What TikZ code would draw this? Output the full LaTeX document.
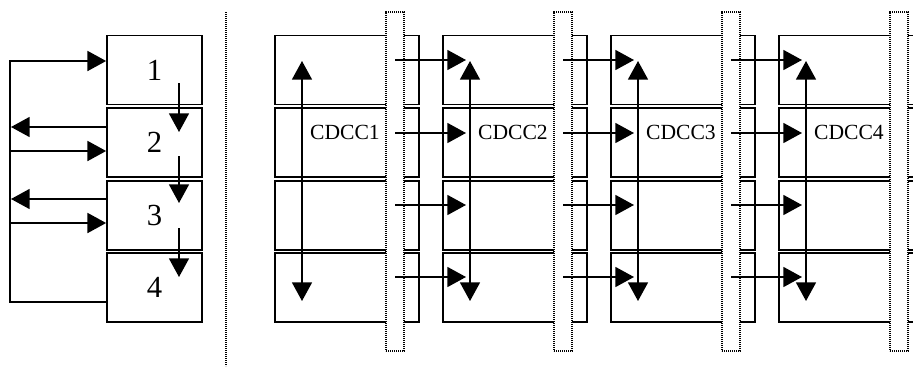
\documentclass[tikz,border=0pt]{standalone}
\usepackage{fontspec}
\setmainfont{Liberation Serif}
\usetikzlibrary{arrows.meta}
\begin{document}
\begin{tikzpicture}[x=0.75pt,y=-0.75pt,
  box/.style={draw,line width=1.3pt,minimum height=51.75pt,inner sep=0pt},
  lbox/.style={box,minimum width=71.25pt,font=\fontsize{23}{25}\selectfont},
  cbox/.style={box,minimum width=108pt},
  dotbox/.style={draw,fill=white,line width=0.9pt,dash pattern=on 0.8pt off 0.7pt,minimum width=13.5pt,minimum height=254.25pt,inner sep=0pt},
  sep/.style={line width=0.9pt,dash pattern=on 0.8pt off 0.7pt},
  tip/.tip={Triangle[length=14pt,width=15pt]},
  arr/.style={line width=1.2pt,-tip},
  darr/.style={line width=1.2pt,tip-tip},
  lab/.style={anchor=east,inner sep=0pt,font=\fontsize{16.2}{18}\selectfont},
]
\useasboundingbox (0,0) rectangle (913,368);
\clip (0,0) rectangle (913,368);

% left block
\node[lbox] (b1) at (154.5,70) {1};
\node[lbox] (b2) at (154.5,142.5) {2};
\node[lbox] (b3) at (154.5,215.5) {3};
\node[lbox] (b4) at (154.5,287.5) {4};

\coordinate (lt) at (10,61);
\coordinate (lb) at (10,302);
\draw[arr] (b4.west |- lb) -- (lb) -- (lt) -- (b1.west |- lt);

\coordinate (l2o) at (11,127);
\coordinate (l2i) at (10,151);
\coordinate (l3o) at (11,199);
\coordinate (l3i) at (10,223);
\draw[arr] (b2.west |- l2o) -- (l2o);
\draw[arr] (l2i) -- (b2.west |- l2i);
\draw[arr] (b3.west |- l3o) -- (l3o);
\draw[arr] (l3i) -- (b3.west |- l3i);

\coordinate (d1s) at (179,83);  \coordinate (d1e) at (179,132);
\coordinate (d2s) at (179,156); \coordinate (d2e) at (179,203);
\coordinate (d3s) at (179,228); \coordinate (d3e) at (179,277);
\draw[arr] (d1s) -- (d1e);
\draw[arr] (d2s) -- (d2e);
\draw[arr] (d3s) -- (d3e);

% separator
\coordinate (st) at (226,12);
\coordinate (sb) at (226,366);
\draw[sep] (st) -- (sb);

% right block
\foreach \i in {0,1,2,3}{
  \node[cbox] (c\i r1) at (347+168*\i,70) {};
  \node[cbox] (c\i r2) at (347+168*\i,142.5) {};
  \node[cbox] (c\i r3) at (347+168*\i,215.5) {};
  \node[cbox] (c\i r4) at (347+168*\i,287.5) {};
}
\foreach \i in {0,1,2,3}{
  \node[dotbox] (d\i) at (395+168*\i,181.5) {};
}
\foreach \i in {0,1,2,3}{
  \coordinate (vt\i) at (302+168*\i,61);
  \coordinate (vb\i) at (302+168*\i,301);
  \draw[darr] (vb\i) -- (vt\i);
}
\foreach \i in {0,1,2}{
  \foreach \y [count=\j] in {60,133,205,277}{
    \coordinate (hs\i\j) at (395+168*\i,\y);
    \coordinate (he\i\j) at (466+168*\i,\y);
    \draw[arr] (hs\i\j) -- (he\i\j);
  }
}
\foreach \i [evaluate=\i as \n using int(\i+1)] in {0,1,2,3}{
  \node[lab] (t\i) at (380+168*\i,132.5) {CDCC\n};
}
\end{tikzpicture}
\end{document}
